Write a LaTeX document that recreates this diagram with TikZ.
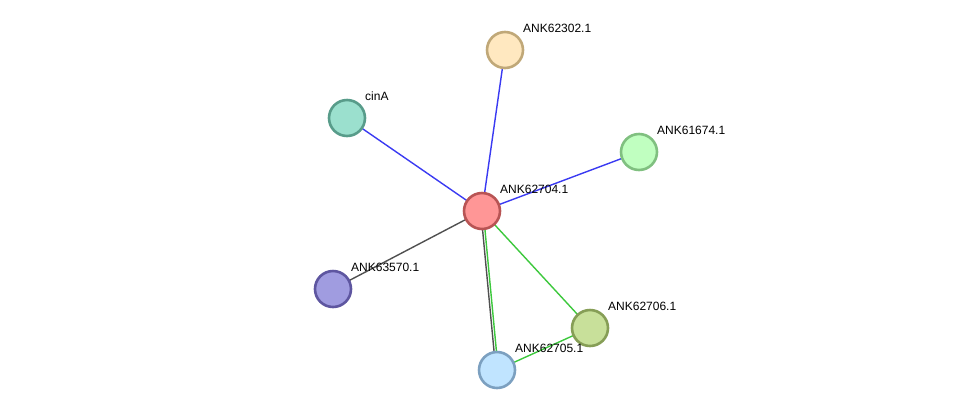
\documentclass[tikz,border=0pt]{standalone}
\usepackage{fontspec}
\setmainfont{Liberation Sans}
\usetikzlibrary{backgrounds}

\definecolor{edgeblue}{HTML}{3A3AF2}
\definecolor{edgegray}{HTML}{505050}
\definecolor{edgegreen}{HTML}{3CC83C}

\tikzset{
  prot/.style={circle, minimum size=36pt, inner sep=0pt, line width=2.6pt},
  lbl/.style={anchor=base west, inner sep=0pt, font=\fontsize{12pt}{14pt}\selectfont},
  blueedge/.style={edgeblue, line width=1.4pt},
  grayedge/.style={edgegray, line width=1.4pt},
  greenedge/.style={edgegreen, line width=1.4pt}
}

\begin{document}
\begin{tikzpicture}[x=1pt, y=-1pt]

		\useasboundingbox (0,0) rectangle (976,416);

		% Proteins
		\node[prot, fill={rgb,255:red,255;green,150;blue,150}, draw={rgb,255:red,184;green,84;blue,84}] (ank62704) at (482,211) {};
		\node[prot, fill={rgb,255:red,255;green,232;blue,192}, draw={rgb,255:red,192;green,168;blue,120}] (ank62302) at (505,50) {};
		\node[prot, fill={rgb,255:red,155;green,224;blue,206}, draw={rgb,255:red,88;green,156;blue,138}] (cina) at (347,118) {};
		\node[prot, fill={rgb,255:red,192;green,255;blue,192}, draw={rgb,255:red,128;green,192;blue,128}] (ank61674) at (639,152) {};
		\node[prot, fill={rgb,255:red,160;green,156;blue,224}, draw={rgb,255:red,94;green,86;blue,160}] (ank63570) at (333,289) {};
		\node[prot, fill={rgb,255:red,200;green,224;blue,154}, draw={rgb,255:red,134;green,158;blue,86}] (ank62706) at (590,328) {};
		\node[prot, fill={rgb,255:red,192;green,228;blue,255}, draw={rgb,255:red,124;green,160;blue,192}] (ank62705) at (497,370) {};

		% Labels
		\node[lbl] (l62704) at ([shift={(18pt,18pt)}]ank62704.center) {ANK62704.1};
		\node[lbl] (l62302) at ([shift={(18pt,18pt)}]ank62302.center) {ANK62302.1};
		\node[lbl] (lcina) at ([shift={(18pt,18pt)}]cina.center) {cinA};
		\node[lbl] (l61674) at ([shift={(18pt,18pt)}]ank61674.center) {ANK61674.1};
		\node[lbl] (l63570) at ([shift={(18pt,18pt)}]ank63570.center) {ANK63570.1};
		\node[lbl] (l62706) at ([shift={(18pt,18pt)}]ank62706.center) {ANK62706.1};
		\node[lbl] (l62705) at ([shift={(18pt,18pt)}]ank62705.center) {ANK62705.1};

		% Edges
		\begin{scope}[on background layer]
		\draw[blueedge] (ank62704.center) -- (ank62302.center);
		\draw[blueedge] (ank62704.center) -- (cina.center);
		\draw[blueedge] (ank62704.center) -- (ank61674.center);
		\draw[grayedge] (ank62704.center) -- (ank63570.center);
		\draw[greenedge] (ank62704.center) -- (ank62706.center);
		\draw[grayedge] ([xshift=-1.2pt]ank62704.center) -- ([xshift=-1.2pt]ank62705.center);
		\draw[greenedge] ([xshift=1.2pt]ank62704.center) -- ([xshift=1.2pt]ank62705.center);
		\draw[greenedge] (ank62706.center) -- (ank62705.center);
		\end{scope}

	\end{tikzpicture}
\end{document}
